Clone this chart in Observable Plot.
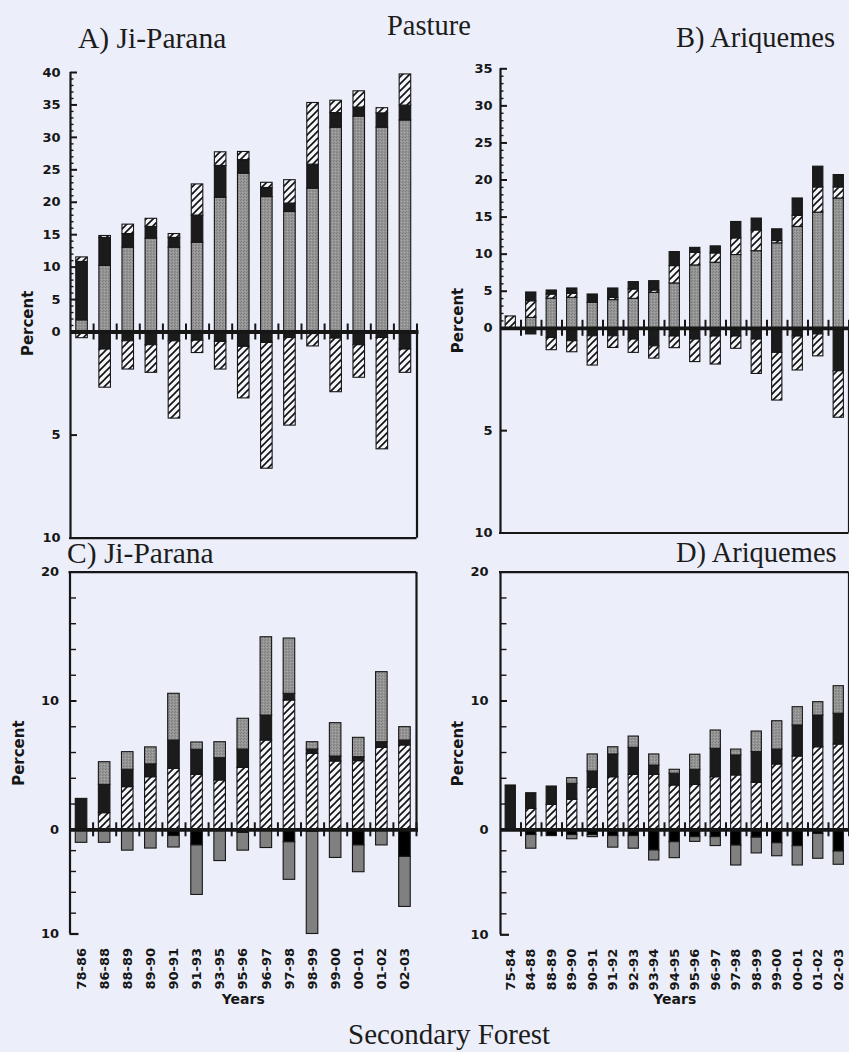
<!DOCTYPE html>
<html><head><meta charset="utf-8">
<script src="https://cdn.jsdelivr.net/npm/d3@7"></script>
<script src="https://cdn.jsdelivr.net/npm/@observablehq/plot@0.6"></script>
<style>
html,body{margin:0;padding:0;background:#eceff9;}
#page{position:relative;width:849px;height:1052px;overflow:hidden;background:#eceff9;}
.title{position:absolute;font-family:"Liberation Serif","Times New Roman",serif;font-size:28.5px;line-height:28.5px;color:#1c1c1c;white-space:nowrap;}
</style></head><body>
<div id="page">
<svg width="0" height="0" style="position:absolute;left:0;top:0">
  <defs>
    <pattern id="stip" width="3" height="3" patternUnits="userSpaceOnUse">
      <rect width="3" height="3" fill="#959595"/>
      <rect x="0" y="0" width="1" height="1" fill="#7c7c7c"/>
      <rect x="2" y="1" width="1" height="1" fill="#aaaaaa"/>
      <rect x="1" y="2" width="1" height="1" fill="#808080"/>
    </pattern>
    <pattern id="hatch" width="7" height="7" patternUnits="userSpaceOnUse">
      <rect width="7" height="7" fill="#f4f5fb"/>
      <path d="M-1,8 L8,-1 M-1,1 L1,-1 M6,8 L8,6" stroke="#111" stroke-width="1.6"/>
    </pattern>
  </defs>
</svg>
<div class="title" style="left:78px;top:23.8px;font-size:29.5px;line-height:29.5px">A) Ji-Parana</div>
<div class="title" style="left:387px;top:12.1px">Pasture</div>
<div class="title" style="left:676px;top:24.4px">B) Ariquemes</div>
<div class="title" style="left:67px;top:538.5px;font-size:29.5px;line-height:29.5px">C) Ji-Parana</div>
<div class="title" style="left:676px;top:539.1px">D) Ariquemes</div>
<div class="title" style="left:348px;top:1019.7px;font-size:29px;line-height:29px">Secondary Forest</div>
</div>
<script>
// ---- categories ----
const jiCats = ["78-86","86-88","88-89","89-90","90-91","91-93","93-95","95-96","96-97","97-98","98-99","99-00","00-01","01-02","02-03"];
const ariCats = ["75-84","84-88","88-89","89-90","90-91","91-92","92-93","93-94","94-95","95-96","96-97","97-98","98-99","99-00","00-01","01-02","02-03"];

// ---- A) Pasture, Ji-Parana ----
const aGainGray  = [1.8, 10.2, 13.0, 14.4, 13.0, 13.75, 20.7, 24.4, 20.8, 18.5, 22.1, 31.5, 33.2, 31.5, 32.6];
const aGainBlack = [9.0, 4.3, 2.1, 1.8, 1.5, 4.2, 4.9, 2.1, 1.4, 1.3, 3.7, 2.25, 1.4, 2.2, 2.3];
const aGainHatch = [0.7, 0.3, 1.45, 1.25, 0.6, 4.8, 2.1, 1.25, 0.8, 3.6, 9.5, 1.9, 2.5, 0.8, 4.8];
const aLossBlack = [0, 0.85, 0.45, 0.64, 0.45, 0.42, 0.48, 0.72, 0.53, 0.29, 0.1, 0.32, 0.64, 0.29, 0.85];
const aLossHatch = [0.3, 1.85, 1.37, 1.34, 3.75, 0.6, 1.34, 2.5, 6.1, 4.25, 0.6, 2.6, 1.58, 5.4, 1.13];

// ---- B) Pasture, Ariquemes ----
const bGainGray  = [0, 1.4, 4.0, 4.1, 3.43, 3.8, 3.97, 4.78, 6.05, 8.48, 8.84, 9.88, 10.4, 11.46, 13.67, 15.6, 17.5];
const bGainHatch = [1.6, 2.25, 0.55, 0.55, 0, 0.3, 1.26, 0.32, 2.34, 1.7, 1.26, 2.25, 2.8, 0.31, 1.5, 3.4, 1.5];
const bGainBlack = [0, 1.18, 0.55, 0.72, 1.13, 1.27, 1.0, 1.26, 1.89, 0.67, 0.95, 2.21, 1.6, 1.58, 2.34, 2.8, 1.67];
const bLossBlack = [0, 0.3, 0.47, 0.63, 0.39, 0.39, 0.55, 0.88, 0.4, 0.55, 0.4, 0.4, 0.55, 1.2, 0.4, 0.3, 2.1];
const bLossHatch = [0, 0, 0.6, 0.54, 1.43, 0.57, 0.65, 0.6, 0.57, 1.1, 1.37, 0.6, 1.68, 2.33, 1.66, 1.07, 2.27];

// ---- C) Secondary forest, Ji-Parana ----
const cGainHatch = [0, 1.29, 3.31, 4.08, 4.73, 4.27, 3.83, 4.81, 6.93, 10.04, 5.9, 5.3, 5.33, 6.37, 6.55];
const cGainBlack = [2.4, 2.2, 1.35, 1.0, 2.2, 1.94, 1.73, 1.42, 1.94, 0.52, 0.33, 0.39, 0.31, 0.43, 0.38];
const cGainGray  = [0, 1.76, 1.37, 1.32, 3.63, 0.57, 1.24, 2.39, 6.08, 4.29, 0.57, 2.59, 1.5, 5.44, 1.04];
const cLossBlack = [0, 0, 0, 0, 0.6, 1.5, 0, 0.3, 0, 1.2, 0.2, 0, 1.5, 0, 2.6];
const cLossGray  = [1.25, 1.25, 2.0, 1.8, 1.1, 4.75, 3.0, 1.7, 1.75, 3.6, 9.8, 2.7, 2.57, 1.5, 4.8];

// ---- D) Secondary forest, Ariquemes ----
const dGainHatch = [0, 1.63, 1.94, 2.33, 3.26, 4.08, 4.27, 4.27, 3.44, 3.49, 4.08, 4.22, 3.65, 5.07, 5.69, 6.41, 6.62];
const dGainBlack = [3.44, 1.21, 1.42, 1.24, 1.27, 1.77, 2.1, 0.72, 0.91, 1.17, 2.21, 1.55, 2.38, 1.16, 2.41, 2.46, 2.39];
const dGainGray  = [0, 0, 0, 0.44, 1.32, 0.56, 0.87, 0.86, 0.31, 1.17, 1.42, 0.46, 1.6, 2.2, 1.42, 1.04, 2.14];
const dLossBlack = [0, 0.5, 0.6, 0.5, 0.5, 0.6, 0.6, 1.97, 1.18, 0.7, 0.7, 1.5, 0.75, 1.28, 1.56, 0.4, 2.07];
const dLossGray  = [0, 1.3, 0, 0.4, 0.2, 1.1, 1.2, 0.95, 1.52, 0.45, 0.85, 1.9, 1.5, 1.24, 1.84, 2.36, 1.26];

// ---- tick labels ----
const aTickLabels = [-10, -5, 0, 5, 10, 15, 20, 25, 30, 35, 40];
const bTickLabels = [-10, -5, 0, 5, 10, 15, 20, 25, 30, 35];
const cdTickLabels = [-10, 0, 10, 20];

const seriesNames = ["gray", "black", "hatch"];
const seriesFills = ["url(#stip)", "#1b1b1b", "url(#hatch)"];
const INK = "#161616";

function drawPanel(p) {
  const mL = p.x0 - p.L, mR = p.L + p.W - p.x1, mT = p.yTop - p.T, mB = p.T + p.H - p.yBot;
  const frameW = p.x1 - p.x0;
  const step = frameW / p.cats.length;
  const gainRows = [], lossRows = [];
  p.gains.forEach(([s, arr]) => arr.forEach((v, i) => { if (v > 0) gainRows.push({cat: p.cats[i], series: s, value: v}); }));
  p.losses.forEach(([s, arr]) => arr.forEach((v, i) => { if (v > 0) lossRows.push({cat: p.cats[i], series: s, value: -v}); }));
  const last = p.cats[p.cats.length - 1];
  const lo = p.domain[0], hi = p.domain[2];
  const marks = [
    Plot.barY(gainRows, Plot.stackY({x: "cat", y: "value", fill: "series", stroke: INK, strokeWidth: 1.1})),
    Plot.barY(lossRows, Plot.stackY({x: "cat", y: "value", fill: "series", stroke: INK, strokeWidth: 1.1})),
    Plot.ruleY(p.minor, {y: d => d, insetRight: frameW - p.minorLen, stroke: INK, strokeWidth: 1.4}),
    Plot.ruleY(p.major, {y: d => d, insetRight: frameW - p.majorLen, stroke: INK, strokeWidth: 2}),
    Plot.ruleX(p.cats, {x: d => d, dx: step / 2, y1: 0, y2: 0, insetTop: -p.sepLen, insetBottom: -p.sepLen, stroke: INK, strokeWidth: 2}),
    Plot.ruleX([p.cats[0]], {x: d => d, dx: -step / 2, y1: lo, y2: hi, stroke: INK, strokeWidth: 2.2}),
    Plot.ruleY([0], {y: d => d, stroke: INK, strokeWidth: 3.8, insetRight: -2}),
    Plot.axisY({ticks: p.labels, tickFormat: d => String(Math.abs(d)), tickSize: 0, tickPadding: p.tickPad, fontSize: 13, fontWeight: "bold", label: null}),
    Plot.text(["Percent"], {text: d => d, frameAnchor: "left", rotate: -90, dx: p.pdx, dy: p.pdy, fontSize: 15, fontWeight: "bold", textAnchor: "middle"})
  ];
  if (p.box === "bottom") {
    marks.push(Plot.ruleY([lo], {y: d => d, stroke: INK, strokeWidth: 2.2, insetLeft: -1}));
    marks.push(Plot.ruleX([last], {x: d => d, dx: step / 2, y1: lo, y2: 0, stroke: INK, strokeWidth: 2.2}));
  } else {
    marks.push(Plot.ruleY([hi], {y: d => d, stroke: INK, strokeWidth: 2.2, insetLeft: -1}));
    marks.push(Plot.ruleX([last], {x: d => d, dx: step / 2, y1: 0, y2: hi, stroke: INK, strokeWidth: 2.2}));
    marks.push(Plot.ruleY([lo], {y: d => d, insetRight: frameW - 9, stroke: INK, strokeWidth: 2.2}));
    marks.push(Plot.axisX({anchor: "bottom", tickRotate: -90, tickSize: 0, tickPadding: 14, fontSize: 13, fontWeight: "bold", label: null}));
    marks.push(Plot.text(["Years"], {text: d => d, frameAnchor: "bottom", dy: p.ydy, fontSize: 14, fontWeight: "bold", textAnchor: "middle"}));
  }
  const svg = Plot.plot({
    width: p.W, height: p.H,
    marginLeft: mL, marginRight: mR, marginTop: mT, marginBottom: mB,
    x: {type: "band", domain: p.cats, paddingInner: 0.5, paddingOuter: 0.25, round: false, axis: null},
    y: {type: "linear", domain: p.domain, range: [p.yBot - p.T, p.yZero - p.T, p.yTop - p.T], axis: null},
    color: {type: "ordinal", domain: seriesNames, range: seriesFills},
    style: {background: "transparent", overflow: "visible", fontFamily: "'DejaVu Sans', sans-serif", fontWeight: "bold", fontSize: "13px", color: INK},
    marks
  });
  svg.style.position = "absolute";
  svg.style.left = p.L + "px";
  svg.style.top = p.T + "px";
  svg.style.maxWidth = "none";
  svg.style.background = "transparent";
  document.getElementById("page").appendChild(svg);
}

drawPanel({
  cats: jiCats, L: 0, T: 50, W: 430, H: 500, x0: 70, x1: 416.5, yTop: 72, yZero: 331.5, yBot: 537.7,
  domain: [-10, 0, 40], labels: aTickLabels,
  major: [-5, 5, 10, 15, 20, 25, 30, 35, 40], minor: d3.range(1, 40).filter(v => v % 5 !== 0),
  majorLen: 7, minorLen: 3.5, sepLen: 8, tickPad: 10, box: "bottom", pdx: -42.5, pdy: 18,
  gains: [["gray", aGainGray], ["black", aGainBlack], ["hatch", aGainHatch]],
  losses: [["black", aLossBlack], ["hatch", aLossHatch]]
});
drawPanel({
  cats: ariCats, L: 430, T: 50, W: 419, H: 500, x0: 500, x1: 848.5, yTop: 68.3, yZero: 327.8, yBot: 532.5,
  domain: [-10, 0, 35], labels: bTickLabels,
  major: [-5, 5, 10, 15, 20, 25, 30, 35], minor: d3.range(1, 35).filter(v => v % 5 !== 0),
  majorLen: 7, minorLen: 3.5, sepLen: 8, tickPad: 8, box: "bottom", pdx: -42, pdy: 19.6,
  gains: [["gray", bGainGray], ["hatch", bGainHatch], ["black", bGainBlack]],
  losses: [["black", bLossBlack], ["hatch", bLossHatch]]
});
drawPanel({
  cats: jiCats, L: 0, T: 550, W: 430, H: 470, x0: 69.5, x1: 416, yTop: 571.7, yZero: 829.3, yBot: 933.5,
  domain: [-10, 0, 20], labels: cdTickLabels,
  major: [10], minor: [2, 4, 6, 8, 12, 14, 16, 18, -2, -4, -6, -8],
  majorLen: 7, minorLen: 6.5, sepLen: 7, tickPad: 11, box: "top", pdx: -51, pdy: 0, ydy: 69.5,
  gains: [["hatch", cGainHatch], ["black", cGainBlack], ["gray", cGainGray]],
  losses: [["black", cLossBlack], ["gray", cLossGray]]
});
drawPanel({
  cats: ariCats, L: 430, T: 550, W: 419, H: 470, x0: 500, x1: 848.5, yTop: 571.7, yZero: 829.3, yBot: 934.3,
  domain: [-10, 0, 20], labels: cdTickLabels,
  major: [10], minor: [2, 4, 6, 8, 12, 14, 16, 18, -2, -4, -6, -8],
  majorLen: 7, minorLen: 6.5, sepLen: 7, tickPad: 12, box: "top", pdx: -42.5, pdy: 0, ydy: 68.7,
  gains: [["hatch", dGainHatch], ["black", dGainBlack], ["gray", dGainGray]],
  losses: [["black", dLossBlack], ["gray", dLossGray]]
});
</script>
</body></html>
